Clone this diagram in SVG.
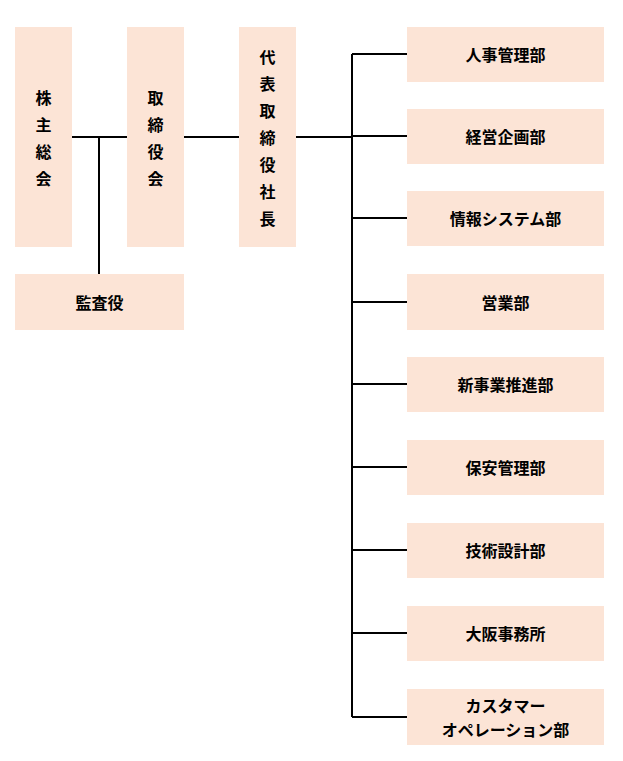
<svg xmlns="http://www.w3.org/2000/svg" width="623" height="761" viewBox="0 0 623 761">
<style>
.b{fill:#fce4d6}
.t{font-family:"Noto Sans CJK JP","Noto Sans CJK SC",sans-serif;font-size:16px;font-weight:bold;fill:#000;text-anchor:middle;dominant-baseline:central}
.l{stroke:#000;stroke-width:2;fill:none}
</style>
<rect width="623" height="761" fill="#fff"/>
<g id="connectors">
<path class="l" d="M72 137H127M184 137H239M296 137H352M99 137V274M352 54V717M352 54H407M352 136H407M352 218H407M352 302H407M352 384H407M352 467H407M352 550H407M352 633H407M352 717H407"/>
</g>
<g id="n1"><rect class="b" x="15" y="27" width="57" height="220"/><text class="t" x="43.5"><tspan x="43.5" y="97">株</tspan><tspan x="43.5" y="124">主</tspan><tspan x="43.5" y="151">総</tspan><tspan x="43.5" y="178">会</tspan></text></g>
<g id="n2"><rect class="b" x="127" y="27" width="57" height="220"/><text class="t"><tspan x="155.5" y="97">取</tspan><tspan x="155.5" y="124">締</tspan><tspan x="155.5" y="151">役</tspan><tspan x="155.5" y="178">会</tspan></text></g>
<g id="n3"><rect class="b" x="239" y="27" width="57" height="220"/><text class="t"><tspan x="267.5" y="56">代</tspan><tspan x="267.5" y="83">表</tspan><tspan x="267.5" y="110">取</tspan><tspan x="267.5" y="137">締</tspan><tspan x="267.5" y="164">役</tspan><tspan x="267.5" y="191">社</tspan><tspan x="267.5" y="218">長</tspan></text></g>
<g id="n4"><rect class="b" x="15" y="274" width="169" height="56"/><text class="t" x="99.5" y="302">監査役</text></g>
<g id="r1"><rect class="b" x="407" y="27" width="197" height="55"/><text class="t" x="505.5" y="54">人事管理部</text></g>
<g id="r2"><rect class="b" x="407" y="109" width="197" height="55"/><text class="t" x="505.5" y="136">経営企画部</text></g>
<g id="r3"><rect class="b" x="407" y="191" width="197" height="55"/><text class="t" x="505.5" y="218">情報システム部</text></g>
<g id="r4"><rect class="b" x="407" y="274" width="197" height="56"/><text class="t" x="505.5" y="302">営業部</text></g>
<g id="r5"><rect class="b" x="407" y="357" width="197" height="55"/><text class="t" x="505.5" y="384">新事業推進部</text></g>
<g id="r6"><rect class="b" x="407" y="440" width="197" height="55"/><text class="t" x="505.5" y="467">保安管理部</text></g>
<g id="r7"><rect class="b" x="407" y="523" width="197" height="55"/><text class="t" x="505.5" y="550">技術設計部</text></g>
<g id="r8"><rect class="b" x="407" y="606" width="197" height="55"/><text class="t" x="505.5" y="633">大阪事務所</text></g>
<g id="r9"><rect class="b" x="407" y="689" width="197" height="56"/><text class="t"><tspan x="505.5" y="705">カスタマー</tspan><tspan x="505.5" y="729">オペレーション部</tspan></text></g>
</svg>
